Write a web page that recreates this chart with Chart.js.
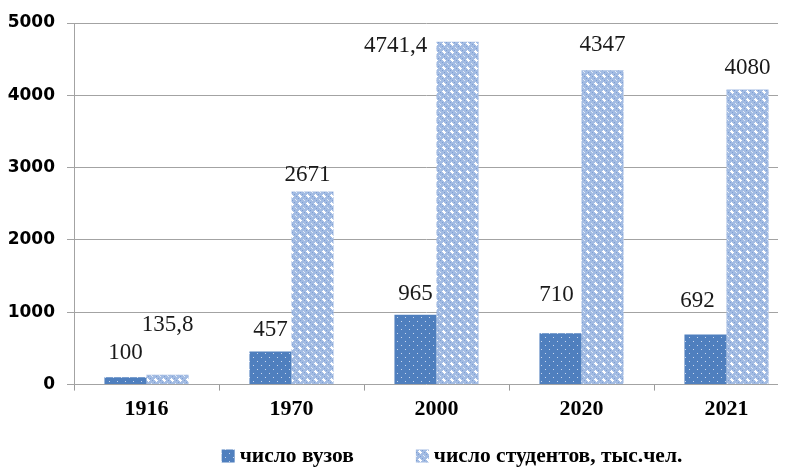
<!DOCTYPE html>
<html>
<head>
<meta charset="utf-8">
<script src="https://cdn.jsdelivr.net/npm/chart.js@4/dist/chart.umd.min.js"></script>
<style>
  html, body { margin: 0; padding: 0; background: #fff; overflow: hidden; }
  .container { width: 792px; height: 467px; }
</style>
</head>
<body>
<div class="container"><canvas id="myChart" width="792" height="467"></canvas></div>
<script>
const years = ["1916", "1970", "2000", "2020", "2021"];
const universities = [100, 457, 965, 710, 692];
const students = [135.8, 2671, 4741.4, 4347, 4080];
const seriesNames = ["число вузов", "число студентов, тыс.чел."];

// label nudges in px (the source labels were dragged around by hand)
const uniShift = [[0, -24], [0, -22], [0, -21], [-4, -38], [-8, -34]];
const stuShift = [[0, -50], [-5, -16], [-62, 4], [0, -25], [0, -22]];

const canvasEle = document.getElementById("myChart");
const ctx = canvasEle.getContext("2d");

function makePattern(base, draw) {
  const c = document.createElement("canvas");
  c.width = 8; c.height = 8;
  const g = c.getContext("2d");
  g.fillStyle = base;
  g.fillRect(0, 0, 8, 8);
  draw(g);
  return ctx.createPattern(c, "repeat");
}

const darkFill = makePattern("#4f7fbe", g => {
  g.fillStyle = "#c9d7ee";
  g.fillRect(1, 1, 1, 1);
  g.fillRect(5, 5, 1, 1);
});

const lightFill = makePattern("#a3bce3", g => {
  g.fillStyle = "#ffffff";
  g.fillRect(3, 3, 2, 2);
  g.fillRect(2, 3, 1, 1); g.fillRect(5, 4, 1, 1);
  g.fillRect(3, 2, 1, 1); g.fillRect(4, 5, 1, 1);
  g.fillStyle = "#e4ecf8";
  g.fillRect(0, 0, 1, 1); g.fillRect(7, 7, 1, 1);
  g.fillStyle = "#7f9fd4";
  g.fillRect(0, 4, 1, 1); g.fillRect(4, 0, 1, 1);
  g.fillRect(2, 6, 1, 1); g.fillRect(6, 2, 1, 1);
});

const valueLabels = {
  id: "valueLabels",
  afterDatasetsDraw(chart) {
    const c = chart.ctx;
    c.save();
    c.font = "23px 'Liberation Serif'";
    c.fillStyle = "#1a1a1a";
    c.textAlign = "center";
    c.textBaseline = "middle";
    chart.data.datasets.forEach((ds, i) => {
      const shifts = i === 0 ? uniShift : stuShift;
      chart.getDatasetMeta(i).data.forEach((bar, j) => {
        const txt = String(ds.data[j]).replace(".", ",");
        c.fillText(txt, bar.x + shifts[j][0], bar.y + shifts[j][1]);
      });
    });
    c.restore();
  }
};

// the original plot area runs a bit past the right edge of the picture
const stretchX = {
  id: "stretchX",
  afterLayout(chart) {
    const x = chart.scales.x;
    x.right = x.left + 725;
    x.width = 725;
    x.configure();
  }
};

const bottomLegend = {
  id: "bottomLegend",
  afterDraw(chart) {
    const c = chart.ctx;
    c.save();
    c.font = "bold 21.5px 'Liberation Serif'";
    c.textBaseline = "middle";
    const box = 13, boxGap = 5, gap = 62, y = 456;
    const widths = chart.data.datasets.map(ds => box + boxGap + c.measureText(ds.label).width);
    let x = 452 - (widths[0] + gap + widths[1]) / 2;
    chart.data.datasets.forEach((ds, i) => {
      c.fillStyle = ds.backgroundColor;
      c.fillRect(x, y - box / 2, box, box);
      c.fillStyle = "#000";
      c.fillText(ds.label, x + box + boxGap, y);
      x += widths[i] + gap;
    });
    c.restore();
  }
};

new Chart(ctx, {
  type: "bar",
  data: {
    labels: years,
    datasets: [
      { label: seriesNames[0], data: universities, backgroundColor: darkFill },
      { label: seriesNames[1], data: students, backgroundColor: lightFill }
    ]
  },
  options: {
    responsive: false,
    animation: false,
    layout: { padding: { top: 23, right: 14, bottom: 38, left: 0 } },
    datasets: { bar: { barPercentage: 1, categoryPercentage: 0.58 } },
    plugins: {
      legend: { display: false },
      tooltip: { enabled: false }
    },
    scales: {
      x: {
        grid: { offset: true, drawOnChartArea: false, tickLength: 6, color: "#9a9a9a" },
        border: { display: false },
        ticks: {
          color: "#000",
          padding: 6,
          font: { family: "'Liberation Serif'", weight: "bold", size: 22 }
        }
      },
      y: {
        min: 0,
        max: 5000,
        afterFit(scale) { scale.width = 74; },
        grid: { color: "#a3a3a3", tickLength: 7 },
        border: { color: "#a3a3a3" },
        ticks: {
          stepSize: 1000,
          color: "#000",
          padding: 12,
          font: { family: "'DejaVu Sans'", weight: "bold", size: 17 },
          callback: v => String(v)
        }
      }
    }
  },
  plugins: [valueLabels, stretchX, bottomLegend]
});
</script>
</body>
</html>
